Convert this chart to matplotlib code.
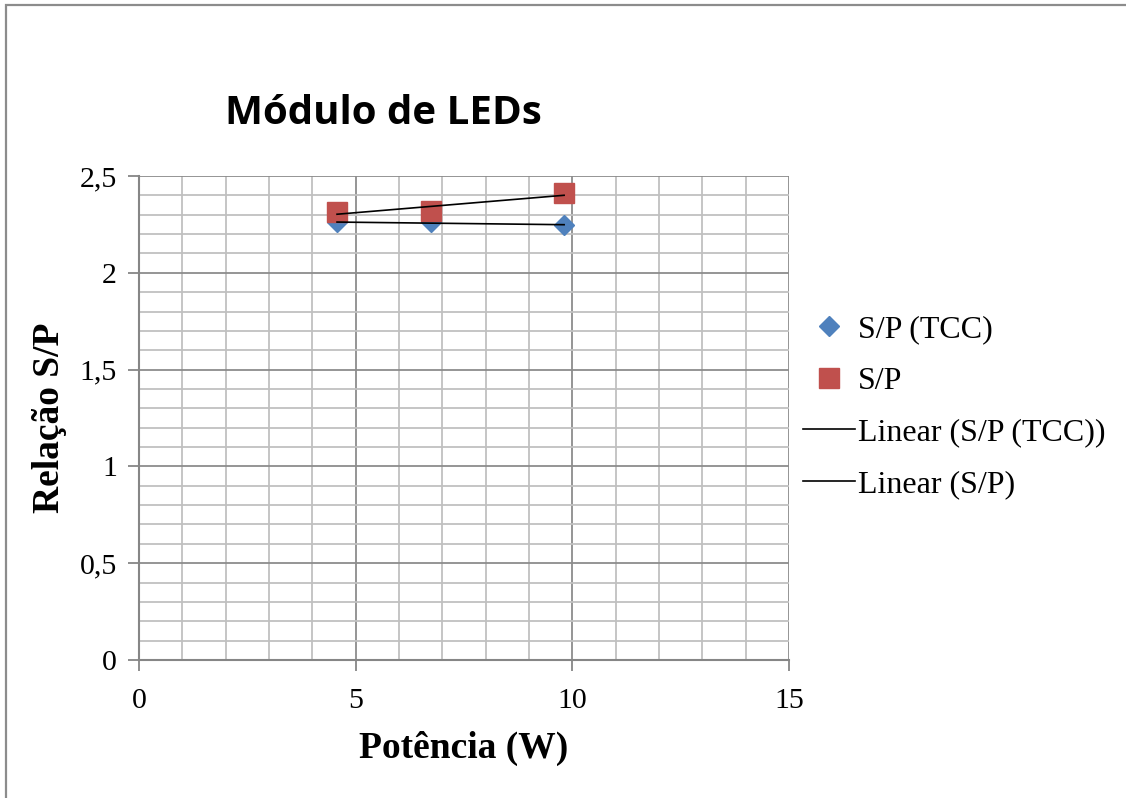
import numpy as np
import matplotlib.pyplot as plt
from matplotlib.patches import Rectangle
from matplotlib.ticker import MultipleLocator, FuncFormatter

# data
potencia = [4.57, 6.74, 9.81]
sp_tcc = [2.26, 2.26, 2.247]
sp = [2.316, 2.32, 2.41]

blue = '#4F81BD'
red = '#C0504D'

fig = plt.figure(figsize=(11.26, 7.98), dpi=100)
ax = fig.add_axes([139/1126, 1 - 660/798, 650/1126, 484/798])

# outer chart frame (left and top visible)
fig.patches.append(Rectangle((6/1126, -0.05), 1.2, 1 - 5/798 + 0.05, transform=fig.transFigure,
                             fill=False, edgecolor='#8c8c8c', linewidth=1.6))

ax.plot(potencia, sp_tcc, linestyle='none', marker='D', markersize=10, color=blue,
        label='S/P (TCC)', zorder=3)
ax.plot(potencia, sp, linestyle='none', marker='s', markersize=14.5, color=red,
        label='S/P', zorder=3)

# linear trendlines
xs = np.array([min(potencia), max(potencia)])
c1 = np.polyfit(potencia, sp_tcc, 1)
c2 = np.polyfit(potencia, sp, 1)
ax.plot(xs, np.polyval(c1, xs), color='black', linewidth=1.2, label='Linear (S/P (TCC))', zorder=4)
ax.plot(xs, np.polyval(c2, xs), color='black', linewidth=1.2, label='Linear (S/P)', zorder=4)

ax.set_xlim(0, 15)
ax.set_ylim(0, 2.5)
ax.xaxis.set_major_locator(MultipleLocator(5))
ax.xaxis.set_minor_locator(MultipleLocator(1))
ax.yaxis.set_major_locator(MultipleLocator(0.5))
ax.yaxis.set_minor_locator(MultipleLocator(0.1))
ax.yaxis.set_major_formatter(FuncFormatter(lambda v, p: ('%g' % v).replace('.', ',')))

ax.grid(True, which='major', color='#8c8c8c', linewidth=1.3)
ax.grid(True, which='minor', color='#c0c0c0', linewidth=1.3)
ax.set_axisbelow(True)

for s in ['top', 'right']:
    ax.spines[s].set_visible(False)
for s in ['left', 'bottom']:
    ax.spines[s].set_color('#868686')
    ax.spines[s].set_linewidth(1.5)

ax.tick_params(which='major', length=8, width=1.3, color='#868686', labelsize=21.5)
ax.tick_params(axis='x', which='major', pad=12)
ax.tick_params(axis='y', which='major', pad=8)
ax.tick_params(which='minor', length=0)
for lbl in ax.get_xticklabels() + ax.get_yticklabels():
    lbl.set_family('Liberation Serif')

ax.set_xlabel('Potência (W)', family='Liberation Serif', fontweight='bold', fontsize=27, labelpad=12)
ax.set_ylabel('Relação S/P', family='Liberation Serif', fontweight='bold', fontsize=27, labelpad=9)

fig.text(383/1126, 1 - 114/798, 'Módulo de LEDs', ha='center', va='center',
         family='Open Sans', fontweight='bold', fontsize=29)

ax.legend(loc='center left', bbox_to_anchor=(803/1126, 1 - 407/798), bbox_transform=fig.transFigure,
          frameon=False, prop={'family': 'Liberation Serif', 'size': 23},
          handlelength=1.63, handletextpad=0.1, labelspacing=0.69, borderaxespad=0, borderpad=0)

fig.savefig('out.png', dpi=100)
